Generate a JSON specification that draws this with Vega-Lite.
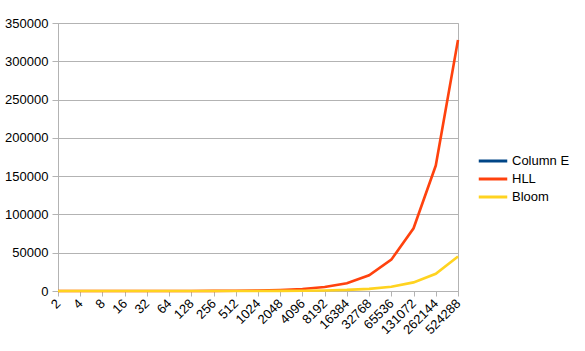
{
  "$schema": "https://vega.github.io/schema/vega-lite/v6.json",
  "width": 400,
  "height": 268,
  "autosize": {"type": "none"},
  "padding": {"left": 58, "top": 23, "right": 127, "bottom": 60},
  "background": "white",
  "config": {
    "font": "Liberation Sans",
    "view": {"stroke": "#b3b3b3", "strokeWidth": 1},
    "axis": {"labelFont": "Liberation Sans", "labelFontSize": 13, "labelColor": "#000000", "gridColor": "#b3b3b3", "domainColor": "#b3b3b3", "tickColor": "#b3b3b3", "title": null}
  },
  "data": {"values": [
    {"n": "2", "o": 1, "s": "HLL", "v": 1.25},
    {"n": "4", "o": 2, "s": "HLL", "v": 2.5},
    {"n": "8", "o": 3, "s": "HLL", "v": 5},
    {"n": "16", "o": 4, "s": "HLL", "v": 10},
    {"n": "32", "o": 5, "s": "HLL", "v": 20},
    {"n": "64", "o": 6, "s": "HLL", "v": 40},
    {"n": "128", "o": 7, "s": "HLL", "v": 80},
    {"n": "256", "o": 8, "s": "HLL", "v": 160},
    {"n": "512", "o": 9, "s": "HLL", "v": 320},
    {"n": "1024", "o": 10, "s": "HLL", "v": 640},
    {"n": "2048", "o": 11, "s": "HLL", "v": 1280},
    {"n": "4096", "o": 12, "s": "HLL", "v": 2560},
    {"n": "8192", "o": 13, "s": "HLL", "v": 5120},
    {"n": "16384", "o": 14, "s": "HLL", "v": 10240},
    {"n": "32768", "o": 15, "s": "HLL", "v": 20480},
    {"n": "65536", "o": 16, "s": "HLL", "v": 40960},
    {"n": "131072", "o": 17, "s": "HLL", "v": 81920},
    {"n": "262144", "o": 18, "s": "HLL", "v": 163840},
    {"n": "524288", "o": 19, "s": "HLL", "v": 327680},
    {"n": "2", "o": 1, "s": "Bloom", "v": 0.17},
    {"n": "4", "o": 2, "s": "Bloom", "v": 0.34},
    {"n": "8", "o": 3, "s": "Bloom", "v": 0.69},
    {"n": "16", "o": 4, "s": "Bloom", "v": 1.4},
    {"n": "32", "o": 5, "s": "Bloom", "v": 2.7},
    {"n": "64", "o": 6, "s": "Bloom", "v": 5.5},
    {"n": "128", "o": 7, "s": "Bloom", "v": 11},
    {"n": "256", "o": 8, "s": "Bloom", "v": 22},
    {"n": "512", "o": 9, "s": "Bloom", "v": 44},
    {"n": "1024", "o": 10, "s": "Bloom", "v": 88},
    {"n": "2048", "o": 11, "s": "Bloom", "v": 176},
    {"n": "4096", "o": 12, "s": "Bloom", "v": 351},
    {"n": "8192", "o": 13, "s": "Bloom", "v": 703},
    {"n": "16384", "o": 14, "s": "Bloom", "v": 1406},
    {"n": "32768", "o": 15, "s": "Bloom", "v": 2812},
    {"n": "65536", "o": 16, "s": "Bloom", "v": 5625},
    {"n": "131072", "o": 17, "s": "Bloom", "v": 11250},
    {"n": "262144", "o": 18, "s": "Bloom", "v": 22500},
    {"n": "524288", "o": 19, "s": "Bloom", "v": 45000}
  ]},
  "mark": {"type": "line", "strokeWidth": 2.6, "strokeCap": "butt", "strokeJoin": "miter"},
  "encoding": {
    "x": {
      "field": "n", "type": "ordinal",
      "sort": {"field": "o", "op": "min"},
      "scale": {"type": "point", "padding": 0},
      "axis": {"labelAngle": -45, "labelAlign": "right", "labelBaseline": "middle", "labelPadding": 5, "tickSize": 5, "grid": false, "labelOverlap": false, "labelBound": false}
    },
    "y": {
      "field": "v", "type": "quantitative",
      "scale": {"domain": [0, 350000], "nice": false},
      "axis": {"values": [0, 50000, 100000, 150000, 200000, 250000, 300000, 350000], "format": "d", "tickSize": 6, "labelPadding": 4, "grid": true}
    },
    "color": {
      "field": "s", "type": "nominal",
      "scale": {"domain": ["Column E", "HLL", "Bloom"], "range": ["#004586", "#ff420e", "#ffd320"]},
      "legend": {"title": null, "orient": "none", "legendX": 424, "legendY": 127, "symbolType": "M-1.5,0H1.5", "symbolSize": 361, "symbolStrokeWidth": 3, "labelFontSize": 13, "labelFont": "Liberation Sans", "labelColor": "#000000", "rowPadding": 0, "labelOffset": 8}
    },
    "order": {"field": "o"}
  }
}
